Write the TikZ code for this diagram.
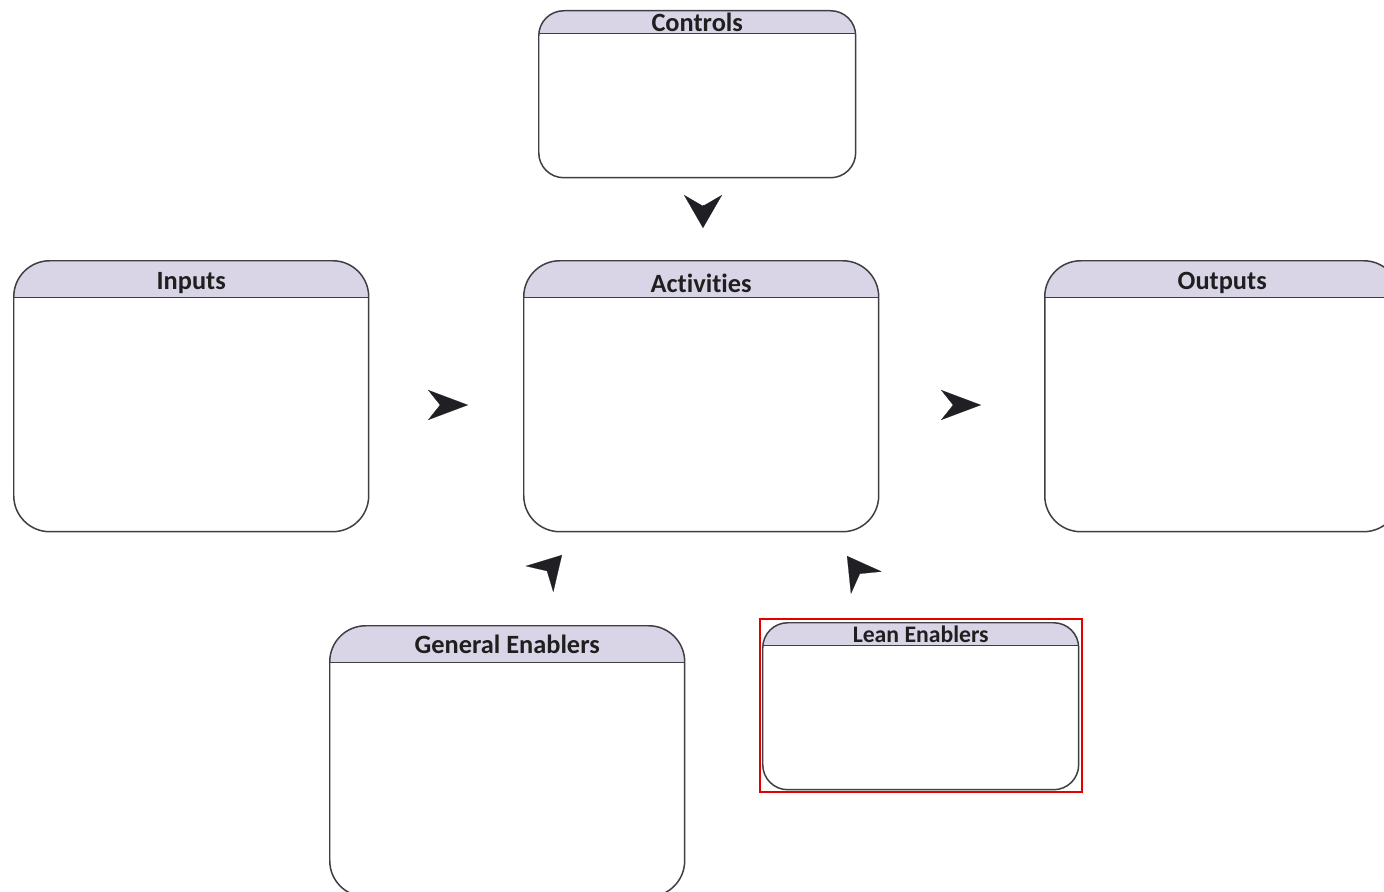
\documentclass[tikz,border=0pt]{standalone}
\usepackage{fontspec}
\setmainfont{Carlito}[Ligatures=NoCommon]
\usepackage{tikz}
\usetikzlibrary{arrows.meta}

\definecolor{hdrlilac}{RGB}{217,213,231}
\definecolor{boxline}{RGB}{62,62,68}
\definecolor{dartgray}{RGB}{32,32,36}

\begin{document}
\begin{tikzpicture}[x=0.02cm, y=-0.02cm,
  panel/.style={draw=boxline, line width=0.85pt, fill=white, inner sep=0pt, anchor=north west},
  header/.style={path picture={
      \fill[hdrlilac, sharp corners] (path picture bounding box.north west) rectangle ([yshift=-#1]path picture bounding box.north east);
      \draw[boxline, line width=0.85pt, sharp corners] ([yshift=-#1]path picture bounding box.north west) -- ([yshift=-#1]path picture bounding box.north east);}},
  bigpanel/.style={panel, header=0.74cm, minimum width=7.1cm, minimum height=5.42cm, rounded corners=0.72cm},
  smallpanel/.style={panel, header=0.46cm, minimum width=6.34cm, minimum height=3.34cm, rounded corners=0.5cm},
  ttl/.style={font=\bfseries\fontsize{15}{18}\selectfont, text=black!88, inner sep=0pt},
  dart/.style={-{Stealth[length=0.66cm, width=0.76cm, inset=0.22cm]}, line width=0.1pt, dartgray},
  flatdart/.style={-{Stealth[length=0.8cm, width=0.6cm, inset=0.24cm]}, line width=0.1pt, dartgray}]

  \useasboundingbox (0,0) rectangle (1384,892);
  \clip (0,0) rectangle (1384,892);

  % === BOXES ===
  \node[smallpanel] (controls) at (538,10) {};
  \node[bigpanel] (inputs) at (13,260) {};
  \node[bigpanel] (activities) at (523,260) {};
  \node[bigpanel] (outputs) at (1044,260) {};
  \node[bigpanel] (general) at (329,625) {};
  \node[smallpanel, minimum width=6.32cm] (lean) at (762,622) {};

  % Titres
  \node[ttl] (controls-t) at ([yshift=-0.25cm]controls.north) {Controls};
  \node[ttl] (inputs-t) at ([yshift=-0.46cm]inputs.north) {Inputs};
  \node[ttl] (activities-t) at ([yshift=-0.46cm]activities.north) {Activities};
  \node[ttl] (outputs-t) at ([yshift=-0.46cm]outputs.north) {Outputs};
  \node[ttl] (general-t) at ([yshift=-0.39cm]general.north) {General Enablers};
  \node[ttl, font=\bfseries\fontsize{13.5}{16}\selectfont] (lean-t) at ([yshift=-0.25cm]lean.north) {Lean Enablers};

  % Cadre rouge
  \draw[red!90!black, line width=1.1pt] ([shift={(-2,-3)}]lean.north west) rectangle ([shift={(3,2)}]lean.south east);

  % === FLECHES ===
  \coordinate (c2a-tail) at (703,205);
  \coordinate (c2a-tip) at (703,228);
  \coordinate (i2a-tail) at (441,405);
  \coordinate (i2a-tip) at (468,405);
  \coordinate (a2o-tail) at (954,405);
  \coordinate (a2o-tip) at (981,405);
  \coordinate (g2a-tail) at (547,571);
  \coordinate (g2a-tip) at (562,555);
  \coordinate (l2a-tail) at (860,574);
  \coordinate (l2a-tip) at (847,556);

  \draw[dart] (c2a-tail) -- (c2a-tip);
  \draw[flatdart] (i2a-tail) -- (i2a-tip);
  \draw[flatdart] (a2o-tail) -- (a2o-tip);
  \draw[dart] (g2a-tail) -- (g2a-tip);
  \draw[dart] (l2a-tail) -- (l2a-tip);
\end{tikzpicture}
\end{document}
